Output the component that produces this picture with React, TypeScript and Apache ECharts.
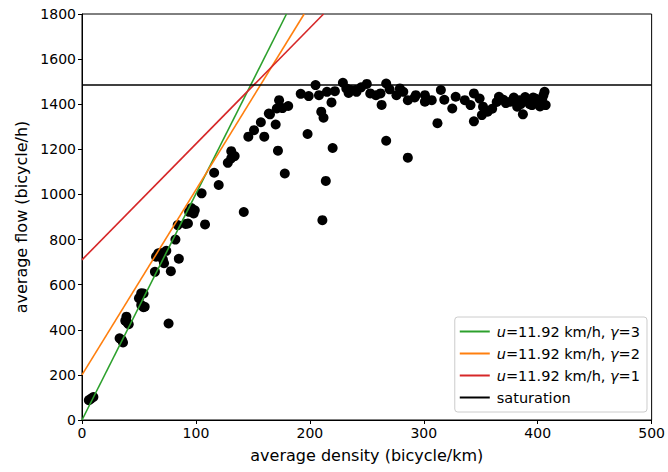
import React, { useEffect, useRef } from "react";
import * as echarts from "echarts";

const xTicksMax = 500;
const yTicksMax = 1800;

const observations: [number, number][] = [
  [6, 88], [8, 95], [10, 102],
  [33, 362], [35, 355], [36, 344],
  [38, 440], [39, 458], [40, 430], [41, 425],
  [50, 540], [52, 562], [52, 510], [54, 500], [55, 502], [54, 561],
  [64, 657], [65, 724], [67, 739], [69, 740], [71, 712], [72, 695], [74, 750], [76, 428],
  [78, 660], [82, 800], [84, 864], [85, 715], [91, 869], [93, 871], [94, 923], [96, 940],
  [98, 916], [99, 930], [105, 1005], [108, 867], [116, 1096], [120, 1042], [128, 1140],
  [131, 1192], [134, 1170], [131, 1160],
  [142, 922], [146, 1256], [151, 1285], [157, 1320], [160, 1256], [165, 1355], [164, 1359],
  [170, 1310], [171, 1381], [173, 1418], [172, 1194], [176, 1383], [178, 1093], [181, 1392],
  [192, 1446], [198, 1268], [199, 1436], [205, 1485], [208, 1440], [210, 1367], [212, 1340],
  [211, 886], [214, 1060], [215, 1455], [219, 1408], [220, 1206], [222, 1458],
  [229, 1495], [232, 1470], [234, 1450], [236, 1463], [240, 1463], [241, 1455], [245, 1475],
  [250, 1490], [253, 1448], [258, 1440], [262, 1448], [263, 1397], [267, 1238], [267, 1492],
  [270, 1466], [276, 1440], [279, 1470], [282, 1455], [286, 1418], [286, 1163], [292, 1430],
  [293, 1440],
  [301, 1411], [301, 1440], [307, 1418], [312, 1316], [315, 1463], [318, 1420], [325, 1381],
  [328, 1433], [336, 1418], [341, 1396], [344, 1448], [344, 1324], [349, 1425], [351, 1352],
  [352, 1389], [356, 1367], [360, 1380], [366, 1433], [372, 1405], [376, 1411], [379, 1430],
  [382, 1389], [384, 1418], [387, 1355], [389, 1432], [391, 1418], [393, 1400], [395, 1396],
  [398, 1425], [400, 1411], [402, 1390], [404, 1425], [406, 1455], [407, 1396], [405, 1440],
  [380, 1410], [385, 1400], [396, 1430], [370, 1420], [364, 1410],
];

const lineGamma3: [number, number][] = [[0, 0], [179.5, 1800]];
const lineGamma2: [number, number][] = [[0, 200], [195, 1800]];
const lineGamma1: [number, number][] = [[0, 710], [212, 1800]];
const saturation: [number, number][] = [[0, 1485], [500, 1485]];

const legendNames = [
  "u=11.92 km/h, γ=3",
  "u=11.92 km/h, γ=2",
  "u=11.92 km/h, γ=1",
  "saturation",
];

const FONT = "DejaVu Sans";

export default function App() {
  const ref = useRef<HTMLDivElement>(null);
  useEffect(() => {
    if (!ref.current) return;
    const chart = echarts.init(ref.current, null, { renderer: "svg" });
    const axisCommon = {
      axisLine: { show: true, onZero: false, lineStyle: { color: "#000", width: 1 } },
      splitLine: { show: false },
    };
    const lineSeries = (name: string, data: [number, number][], color: string) => ({
      name,
      type: "line",
      data,
      symbol: "none",
      lineStyle: { color, width: 1.6 },
      itemStyle: { color },
      z: 5,
      clip: true,
    });
    const labelFmt = (v: number) => String(v);
    chart.setOption({
      animation: false,
      backgroundColor: "#fff",
      grid: {
        left: 82,
        right: 13,
        top: 14,
        bottom: 52,
        containLabel: false,
        show: true,
        borderColor: "#000",
        borderWidth: 1,
        backgroundColor: "transparent",
      },
      xAxis: {
        type: "value",
        min: 0,
        max: xTicksMax,
        interval: 100,
        ...axisCommon,
        axisTick: { show: true, inside: false, length: 4, lineStyle: { color: "#000" } },
        axisLabel: { color: "#000", fontFamily: FONT, fontSize: 14, margin: 6, formatter: labelFmt },
        name: "average density (bicycle/km)",
        nameLocation: "middle",
        nameGap: 27,
        nameTextStyle: { color: "#000", fontFamily: FONT, fontSize: 16 },
      },
      yAxis: {
        type: "value",
        min: 0,
        max: yTicksMax,
        interval: 200,
        ...axisCommon,
        axisTick: { show: true, inside: false, length: 4, lineStyle: { color: "#000" } },
        axisLabel: { color: "#000", fontFamily: FONT, fontSize: 14, margin: 6, formatter: labelFmt },
        name: "average flow (bicycle/h)",
        nameLocation: "middle",
        nameGap: 47,
        nameTextStyle: { color: "#000", fontFamily: FONT, fontSize: 16 },
      },
      legend: {
        data: legendNames,
        orient: "vertical",
        right: 21,
        bottom: 60,
        icon: "rect",
        itemWidth: 30,
        itemHeight: 2,
        itemGap: 7,
        padding: [7, 7, 7, 5],
        borderColor: "#ccc",
        borderWidth: 1,
        borderRadius: 3,
        backgroundColor: "rgba(255,255,255,0.8)",
        formatter: (name: string) => {
          if (name === "saturation") return name;
          const m = name.match(/^u(=11\.92 km\/h, )γ(=\d)$/);
          if (!m) return name;
          return `{i|u}${m[1]}{i|γ}${m[2]}`;
        },
        textStyle: {
          color: "#000",
          fontFamily: FONT,
          fontSize: 14.5,
          padding: [0, 0, 0, 2],
          rich: {
            i: { fontStyle: "italic", fontFamily: FONT, fontSize: 14.5, color: "#000" },
          },
        },
      },
      series: [
        {
          type: "scatter",
          data: observations,
          symbol: "circle",
          symbolSize: 10,
          itemStyle: { color: "#000", opacity: 1 },
          z: 2,
        },
        lineSeries(legendNames[0], lineGamma3, "#2ca02c"),
        lineSeries(legendNames[1], lineGamma2, "#ff7f0e"),
        lineSeries(legendNames[2], lineGamma1, "#d62728"),
        lineSeries(legendNames[3], saturation, "#000"),
      ],
    });
    return () => chart.dispose();
  }, []);
  return (
    <div
      ref={ref}
      style={{ position: "fixed", left: 0, top: 0, width: 668, height: 472 }}
    />
  );
}
